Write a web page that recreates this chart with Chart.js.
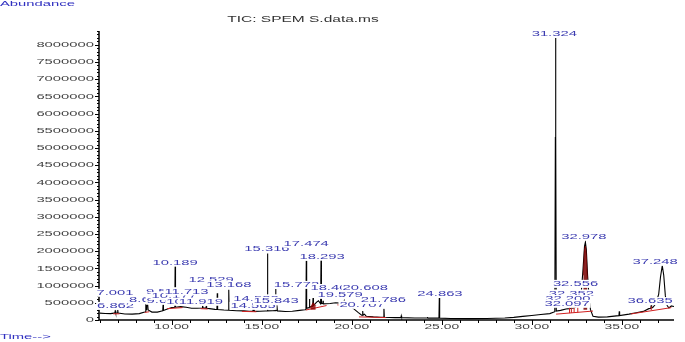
<!DOCTYPE html>
<html lang="en">
<head>
    <meta charset="UTF-8">
    <title>TIC: SPEM S.data.ms</title>
    <style>
        body { margin: 0; background: #fff; }
    </style>
</head>
<body>
    <canvas id="chart" width="685" height="342"></canvas>

    <script src="https://cdn.jsdelivr.net/npm/chart.js"></script>

    <script>
        // TIC trace: [retention time (min), abundance (thousands)]
        const trace = [
            [6.00, 200], [6.30, 190], [6.60, 185], [6.80, 200], [6.84, 205], [6.862, 270], [6.89, 205], [6.98, 205],
            [7.001, 300], [7.02, 200], [7.40, 175], [7.80, 170], [8.20, 185], [8.50, 230], [8.54, 240], [8.56, 560],
            [8.58, 300], [8.60, 300], [8.62, 540], [8.64, 420], [8.66, 480], [8.69, 290], [8.90, 230], [9.20, 230],
            [9.45, 260], [9.50, 265], [9.52, 450], [9.54, 275], [9.80, 330], [10.00, 360], [10.17, 370], [10.189, 1560],
            [10.21, 372], [10.50, 390], [10.80, 370], [11.10, 340], [11.40, 340], [11.69, 350], [11.713, 430], [11.74, 350],
            [11.90, 345], [11.919, 400], [11.94, 340], [12.10, 330], [12.40, 310], [12.51, 305], [12.529, 780], [12.55, 305],
            [12.90, 290], [13.15, 285], [13.168, 880], [13.19, 285], [13.60, 270], [14.00, 265], [14.30, 255], [14.51, 250],
            [14.532, 440], [14.55, 260], [14.565, 400], [14.59, 250], [14.90, 255], [15.20, 260], [15.30, 262], [15.316, 1930],
            [15.34, 265], [15.60, 270], [15.75, 272], [15.772, 900], [15.79, 275], [15.82, 275], [15.843, 430], [15.87, 265],
            [16.30, 245], [16.70, 255], [17.10, 280], [17.40, 300], [17.455, 305], [17.474, 1720], [17.495, 340], [17.63, 360],
            [17.65, 610], [17.67, 380], [17.83, 400], [17.85, 640], [17.87, 420], [18.05, 520], [18.15, 560], [18.27, 470],
            [18.293, 1780], [18.315, 480], [18.39, 480], [18.406, 560], [18.42, 470], [18.80, 480], [19.10, 500], [19.35, 490],
            [19.56, 470], [19.579, 530], [19.60, 450], [19.90, 400], [20.10, 330], [20.35, 220], [20.55, 140], [20.59, 140],
            [20.608, 260], [20.63, 140], [20.707, 170], [20.80, 110], [21.20, 90], [21.60, 80], [21.765, 80], [21.786, 380],
            [21.81, 80], [22.40, 70], [22.73, 70], [22.75, 120], [22.77, 70], [23.50, 60], [24.18, 58], [24.20, 85],
            [24.22, 56], [24.843, 55], [24.863, 640], [24.883, 55], [25.50, 45], [26.50, 40], [27.50, 45], [28.50, 60],
            [29.00, 75], [29.50, 105], [30.00, 130], [30.50, 160], [31.00, 185], [31.28, 240], [31.31, 5300], [31.324, 8200],
            [31.335, 5300], [31.36, 260], [31.60, 280], [31.90, 320], [32.08, 330], [32.097, 420], [32.115, 335], [32.185, 340],
            [32.200, 400], [32.215, 345], [32.335, 350], [32.352, 420], [32.37, 360], [32.45, 380], [32.556, 470], [32.65, 520],
            [32.75, 800], [32.85, 1500], [32.93, 2150], [32.978, 2260], [33.03, 2050], [33.10, 1300], [33.18, 650], [33.26, 300],
            [33.40, 110], [33.70, 85], [34.20, 90], [34.70, 120], [34.84, 125], [34.86, 250], [34.88, 130], [35.40, 170],
            [35.80, 210], [36.20, 250], [36.50, 330], [36.61, 340], [36.635, 420], [36.66, 350], [36.72, 360], [36.90, 480],
            [37.05, 750], [37.15, 1250], [37.248, 1580], [37.33, 1300], [37.42, 700], [37.52, 420], [37.62, 350], [37.75, 410],
            [37.90, 390]
        ]

        // integration baselines and peak markers (red), null = break
        const redTimes = [
            6.75, 7.10, 7.10, 8.50, 8.75, 8.75, 9.75, 10.60, 10.60, 11.60, 12.00, 12.00, 13.90, 14.70, 14.70,
            17.45, 18.60, 18.60, 19.20, 19.80, 19.80, 20.40, 21.90, 21.90, 31.35, 33.40, 33.40,
            32.097, 32.097, 32.097, 32.200, 32.200, 32.200, 32.352, 32.352, 32.352, 32.556, 32.556, 32.556,
            35.50, 37.75, 37.75, 36.635, 36.635
        ]
        const redValuesK = [
            180, 180, null, 220, 240, null, 330, 360, null, 330, 320, null, 250, 240, null,
            290, 420, null, 440, 420, null, 90, 70, null, 170, 260, null,
            200, 400, null, 205, 380, null, 210, 400, null, 215, 450, null,
            175, 360, null, 290, 400
        ]
        const fillTimes1 = [32.86, 32.93, 32.978, 33.02, 33.09]
        const fillValuesK1 = [1300, 2050, 2150, 1950, 1200]
        const fillTimes2 = [17.70, 17.85, 18.00]
        const fillValuesK2 = [350, 500, 420]

        // peak labels: text, label centre (min), label level (abundance)
        const peakText = [
            "6.862", "7.001", "8.609", "9.557", "9.623", "10.177", "10.189", "10.842", "11.713", "11.919",
            "12.529", "13.168", "14.532", "14.565", "15.316", "15.843", "15.772", "17.474", "18.293", "18.406",
            "19.579", "20.707", "20.608", "21.786", "24.863", "31.324", "32.556", "32.352", "32.200", "32.097",
            "32.978", "36.635", "37.248"
        ]
        const peakLabelTime = [
            6.88, 6.85, 8.66, 9.60, 9.63, 10.13, 10.19, 10.95, 10.82, 11.62,
            12.19, 13.17, 14.68, 14.52, 15.29, 15.80, 16.93, 17.47, 18.35, 18.96,
            19.35, 20.57, 20.75, 21.76, 24.90, 31.25, 32.43, 32.20, 32.00, 31.96,
            32.89, 36.57, 36.85
        ]
        const peakLabelLevel = [
            410000, 790000, 580000, 830000, 560000, 700000, 1670000, 530000, 830000, 530000,
            1170000, 1020000, 630000, 410000, 2070000, 550000, 1020000, 2220000, 1840000, 930000,
            730000, 440000, 930000, 580000, 760000, 8320000, 1050000, 770000, 610000, 470000,
            2420000, 550000, 1690000
        ]

        const yTickStep = 500000
        const yMinorStep = 100000
        const xTickLabels = [10, 15, 20, 25, 30, 35]

        const SX = 1.85
        const FONT = '"Liberation Sans", Arial, sans-serif'

        function stretchText(ctx, text, px, py, align, size, color, bg) {
            ctx.save()
            ctx.translate(px, py)
            ctx.scale(SX, 1)
            ctx.font = size + 'px ' + FONT
            ctx.textAlign = align
            ctx.textBaseline = 'middle'
            if (bg) {
                const w = ctx.measureText(text).width
                const left = align === 'center' ? -w / 2 : (align === 'right' ? -w : 0)
                ctx.fillStyle = '#fff'
                ctx.fillRect(left - 0.5, -size / 2, w + 1, size)
            }
            ctx.fillStyle = color
            ctx.fillText(text, 0, 0)
            ctx.restore()
        }

        const gcPlugin = {
            id: 'gcAxes',
            afterDatasetsDraw(chart) {
                const { ctx, chartArea: a, scales: { x, y } } = chart
                ctx.save()
                ctx.strokeStyle = '#000'
                ctx.lineWidth = 1.5
                ctx.beginPath()
                ctx.moveTo(a.left, a.top)
                ctx.lineTo(a.left, a.bottom)
                ctx.lineTo(a.right, a.bottom)
                ctx.stroke()

                ctx.lineWidth = 1
                ctx.beginPath()
                for (let v = 0; v <= y.max; v += yMinorStep) {
                    const py = Math.round(y.getPixelForValue(v)) + 0.5
                    const len = v % yTickStep === 0 ? 4 : 2
                    ctx.moveTo(a.left - len, py)
                    ctx.lineTo(a.left, py)
                }
                for (let t = Math.ceil(x.min); t <= x.max; t++) {
                    const px = Math.round(x.getPixelForValue(t)) + 0.5
                    const len = t % 5 === 0 ? 5 : 3
                    ctx.moveTo(px, a.bottom)
                    ctx.lineTo(px, a.bottom + len)
                }
                ctx.stroke()
                ctx.restore()

                for (let v = 0; v <= y.max; v += yTickStep) {
                    stretchText(ctx, String(v), a.left - 5, y.getPixelForValue(v), 'right', 8, '#444')
                }
                xTickLabels.forEach(t => {
                    stretchText(ctx, t.toFixed(2), x.getPixelForValue(t), a.bottom + 7, 'center', 7.5, '#444')
                })

                peakText.forEach((txt, i) => {
                    stretchText(ctx, txt, x.getPixelForValue(peakLabelTime[i]), y.getPixelForValue(peakLabelLevel[i]), 'center', 8, '#3b3bb0', true)
                })

                stretchText(ctx, 'TIC: SPEM S.data.ms', 303, 20, 'center', 8.4, '#333')
                stretchText(ctx, 'Abundance', 0, 4, 'left', 8, '#3030c0')
                stretchText(ctx, 'Time-->', 0, 337, 'left', 8, '#3030c0')
            }
        }

        const tracePoints = trace.map(p => ({ x: p[0], y: p[1] * 1000 }))
        const redPoints = redTimes.map((t, i) => ({ x: t, y: redValuesK[i] === null ? null : redValuesK[i] * 1000 }))
        const fill1 = fillTimes1.map((t, i) => ({ x: t, y: fillValuesK1[i] * 1000 }))
        const fill2 = fillTimes2.map((t, i) => ({ x: t, y: fillValuesK2[i] * 1000 }))

        new Chart(document.getElementById('chart'), {
            type: 'line',
            data: {
                datasets: [
                    {
                        data: fill1,
                        borderColor: 'rgba(120,0,0,0.85)',
                        backgroundColor: 'rgba(120,0,0,0.85)',
                        borderWidth: 1,
                        pointRadius: 0,
                        fill: { value: 300000 }
                    },
                    {
                        data: fill2,
                        borderColor: 'rgba(140,0,0,0.8)',
                        backgroundColor: 'rgba(140,0,0,0.8)',
                        borderWidth: 1,
                        pointRadius: 0,
                        fill: { value: 300000 }
                    },
                    {
                        data: redPoints,
                        borderColor: '#d02020',
                        borderWidth: 1,
                        pointRadius: 0,
                        spanGaps: false,
                        fill: false
                    },
                    {
                        data: tracePoints,
                        borderColor: '#000',
                        borderWidth: 1.1,
                        pointRadius: 0,
                        tension: 0,
                        fill: false
                    }
                ]
            },
            options: {
                responsive: false,
                devicePixelRatio: 1,
                animation: false,
                layout: { padding: { left: 99, right: 11, top: 31, bottom: 22 } },
                plugins: { legend: { display: false }, tooltip: { enabled: false } },
                scales: {
                    x: { type: 'linear', min: 5.96, max: 37.9, display: false },
                    y: { min: 0, max: 8400000, display: false }
                }
            },
            plugins: [gcPlugin]
        })
    </script>
</body>
</html>
